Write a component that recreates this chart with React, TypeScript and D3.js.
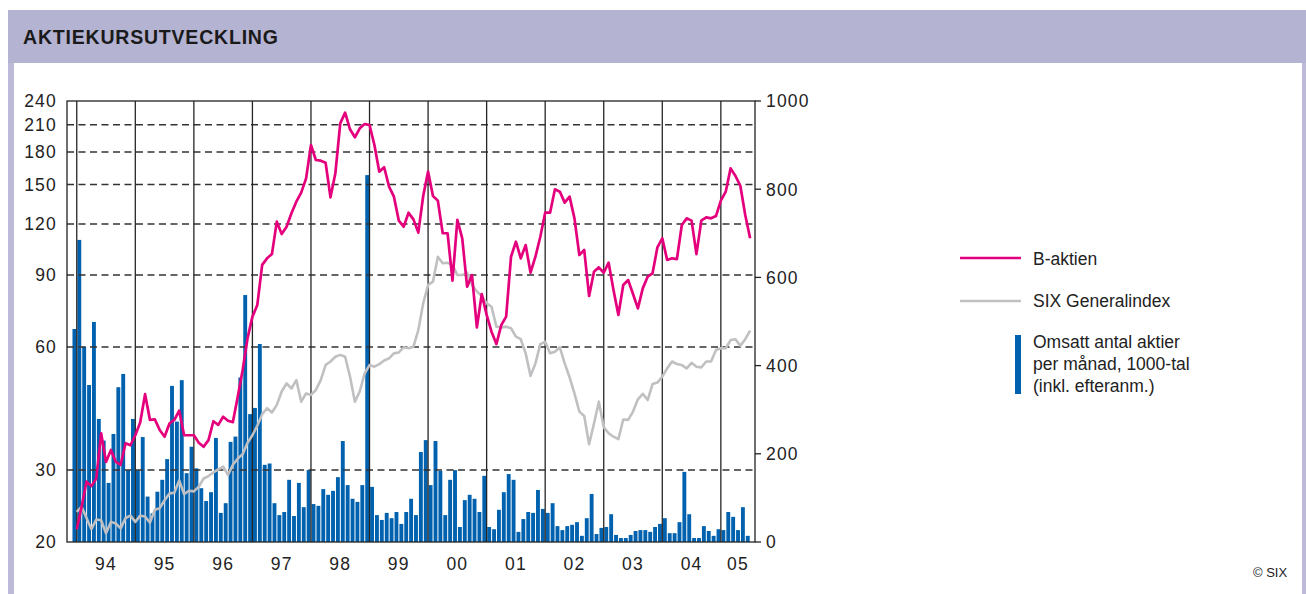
import React from "react";
import * as d3 from "d3";

// month index 0 = Jan 1994; year boundaries every 12 months
const yearLabels = ["94", "95", "96", "97", "98", "99", "00", "01", "02", "03", "04", "05"];
const leftTicks = [20, 30, 60, 90, 120, 150, 180, 210, 240];
const rightTicks = [0, 200, 400, 600, 800, 1000];

// B-aktien, kr (points from Jan 1994 to Jul 2005)
const bAktien = [
  21.5, 24.4, 28.1, 27.4, 28.6, 36.9, 31.4, 33.6, 31.4, 30.9, 34.9, 34.5,
  36.5, 39.2, 46.0, 39.8, 39.9, 37.6, 36.2, 39.0, 39.8, 41.9, 36.5, 36.5,
  36.5, 35.0, 34.2, 35.5, 39.5, 38.7, 40.5, 39.6, 39.3, 45.4, 52.7, 63.0,
  71.2, 76.0, 95.3, 98.9, 101.3, 121.6, 113.4, 118.2, 127.5, 136.1, 143.2, 155.2,
  187.3, 172.1, 171.5, 169.5, 139.5, 159.7, 211.6, 224.8, 204.6, 195.6, 205.8, 210.8,
  209.7, 187.3, 161.2, 165.2, 148.1, 140.0, 122.3, 118.2, 127.9, 123.2, 114.3, 140.5,
  161.2, 140.5, 136.9, 113.9, 113.9, 87.2, 122.8, 110.7, 84.3, 90.0, 67.0, 80.9,
  71.9, 65.4, 61.0, 67.9, 71.2, 99.8, 108.6, 98.9, 106.6, 91.2, 99.8, 111.7,
  127.9, 127.9, 145.9, 144.0, 135.4, 140.0, 123.9, 100.8, 103.7, 80.0, 91.7, 94.0,
  91.2, 96.5, 82.7, 71.9, 85.1, 87.5, 80.9, 74.6, 83.5, 89.2, 90.9, 105.2,
  110.7, 98.0, 98.9, 98.5, 119.3, 123.9, 122.3, 101.3, 122.3, 124.6, 123.9, 125.5,
  136.9, 144.0, 164.2, 157.3, 148.7, 126.3, 110.7,
];

// SIX Generalindex, rebased to the left scale
const sixIndex = [
  23.7, 24.4, 22.9, 21.5, 22.7, 22.6, 21.0, 22.4, 22.2, 21.6, 22.9, 23.2,
  22.4, 23.2, 23.1, 22.3, 24.0, 24.2, 25.3, 26.3, 26.4, 28.3, 26.2, 26.7,
  26.6, 27.3, 28.6, 29.0, 29.6, 30.1, 30.6, 29.2, 30.9, 32.0, 32.8, 35.0,
  36.5, 38.5, 41.1, 42.5, 41.5, 43.3, 46.7, 48.9, 47.5, 49.8, 44.1, 46.2,
  45.8, 47.1, 49.8, 54.2, 55.3, 56.8, 57.4, 56.8, 50.8, 44.1, 46.7, 51.7,
  54.2, 53.7, 54.5, 55.6, 56.3, 57.9, 58.2, 59.9, 59.6, 60.1, 66.0, 76.8,
  85.1, 86.7, 99.8, 96.2, 96.5, 95.3, 90.0, 90.0, 91.2, 85.1, 82.0, 80.0,
  76.8, 75.3, 67.3, 67.0, 67.3, 66.7, 63.6, 62.7, 57.9, 51.0, 54.7, 61.0,
  61.8, 57.9, 58.4, 59.9, 54.7, 50.6, 46.2, 41.7, 40.7, 34.7, 39.0, 44.1,
  38.2, 36.9, 36.2, 35.7, 39.9, 39.8, 41.7, 44.7, 46.1, 44.5, 48.7, 49.1,
  50.8, 53.2, 55.3, 54.5, 54.2, 53.2, 54.9, 53.7, 53.5, 55.3, 55.3, 59.0,
  59.6, 59.6, 62.4, 62.7, 60.4, 62.7, 65.8,
];

// Omsatt antal aktier per månad, 1000-tal (Dec 1993 .. Jun 2005)
const volume = [
  483,
  685, 443, 356, 499, 279, 230, 134, 245, 351, 381, 163, 279,
  163, 238, 103, 65, 114, 141, 188, 354, 273, 367, 156, 216,
  167, 122, 93, 113, 236, 66, 88, 227, 239, 373, 560, 290,
  304, 449, 175, 178, 88, 61, 68, 141, 59, 134, 79, 163,
  86, 82, 120, 107, 116, 147, 229, 129, 98, 91, 129, 832,
  125, 61, 50, 66, 54, 68, 41, 68, 98, 61, 204, 231,
  129, 229, 161, 61, 141, 163, 34, 95, 107, 98, 68, 150,
  34, 29, 73, 113, 154, 141, 23, 52, 68, 66, 118, 75,
  66, 88, 36, 27, 36, 39, 45, 14, 54, 109, 18, 32,
  34, 63, 16, 9, 9, 16, 25, 27, 27, 23, 34, 41,
  54, 20, 20, 45, 159, 63, 9, 9, 36, 25, 14, 29,
  27, 68, 57, 27, 79, 14,
];

const MAGENTA = "#e4007c";
const GREY = "#c0c0c2";
const BLUE = "#0062ae";
const LAVENDER = "#b5b3d2";
const FONT = "'Liberation Sans', Arial, sans-serif";

export default function App() {
  const left = 67, right = 755, top = 101, bottom = 542;

  const x = d3.scaleLinear().domain([-2, 139]).range([left, right]);
  const yL = d3.scaleLog().domain([20, 240]).range([bottom, top]);
  const yR = d3.scaleLinear().domain([0, 1000]).range([bottom, top]);

  const line = d3
    .line<number>()
    .x((_, i) => x(i))
    .y((d) => yL(d));

  const step = x(1) - x(0);
  const yearStarts = yearLabels.map((_, k) => k * 12);

  return (
    <svg
      width={1306}
      height={594}
      style={{ position: "absolute", left: 0, top: 0, background: "#fff" }}
      fontFamily={FONT}
    >
      {/* frame */}
      <rect x={8} y={10} width={1298} height={53} fill={LAVENDER} />
      <rect x={8} y={63} width={6} height={531} fill="#bdbad8" />
      <rect x={1302} y={63} width={4} height={531} fill="#bdbad8" />
      <text x={23} y={44} fontSize={19.5} fontWeight="bold" letterSpacing={0.8} fill="#1a1a1a">
        AKTIEKURSUTVECKLING
      </text>

      {/* bars */}
      <g>
        {volume.map((v, i) => {
          const t = i - 1;
          return (
            <rect
              key={i}
              x={x(t) + 0.6}
              width={step - 1}
              y={yR(v)}
              height={bottom - yR(v)}
              fill={BLUE}
            />
          );
        })}
      </g>

      {/* horizontal dashed grid */}
      {leftTicks.slice(1, -1).map((t) => (
        <line
          key={t}
          x1={left}
          x2={right}
          y1={yL(t)}
          y2={yL(t)}
          stroke="#333"
          strokeWidth={1.5}
          strokeDasharray="7 4.5"
        />
      ))}

      {/* year lines */}
      {yearStarts.map((s) => (
        <line key={s} x1={x(s)} x2={x(s)} y1={top} y2={bottom} stroke="#262626" strokeWidth={1.3} />
      ))}

      {/* lines */}
      <path d={line(sixIndex) || ""} fill="none" stroke={GREY} strokeWidth={2.6} strokeLinejoin="round" />
      <path d={line(bAktien) || ""} fill="none" stroke={MAGENTA} strokeWidth={2.7} strokeLinejoin="round" />

      <rect x={left} y={top} width={right - left} height={bottom - top} fill="none" stroke="#222" strokeWidth={1.3} />

      {/* left axis */}
      {leftTicks.map((t) => (
        <text key={t} x={57} y={yL(t)} dy="0.36em" textAnchor="end" fontSize={17.5} letterSpacing={1.2} fill="#222">
          {t}
        </text>
      ))}

      {/* right axis */}
      {rightTicks.map((t) => (
        <g key={t}>
          <line x1={right} x2={right + 6} y1={yR(t)} y2={yR(t)} stroke="#222" strokeWidth={1.3} />
          <text x={766} y={yR(t)} dy="0.36em" fontSize={17.5} letterSpacing={1.2} fill="#222">
            {t}
          </text>
        </g>
      ))}

      {/* year labels */}
      {yearLabels.map((lab, k) => {
        const s = yearStarts[k];
        const e = Math.min(s + 12, x.domain()[1]);
        return (
          <text key={lab} x={x((s + e) / 2)} y={570} textAnchor="middle" fontSize={17.5} letterSpacing={1.2} fill="#222">
            {lab}
          </text>
        );
      })}

      {/* legend */}
      <line x1={960} x2={1021} y1={258} y2={258} stroke={MAGENTA} strokeWidth={2.7} />
      <text x={1033} y={265} fontSize={17.5} fill="#222">B-aktien</text>
      <line x1={960} x2={1021} y1={301} y2={301} stroke={GREY} strokeWidth={2.7} />
      <text x={1033} y={307} fontSize={17.5} fill="#222">SIX Generalindex</text>
      <rect x={1015} y={335} width={6} height={59} fill={BLUE} />
      <text x={1033} y={348} fontSize={17.5} fill="#222">Omsatt antal aktier</text>
      <text x={1033} y={370} fontSize={17.5} fill="#222">per månad, 1000-tal</text>
      <text x={1033} y={392} fontSize={17.5} fill="#222">(inkl. efteranm.)</text>

      <text x={1253} y={577} fontSize={13} fill="#222">© SIX</text>
    </svg>
  );
}
